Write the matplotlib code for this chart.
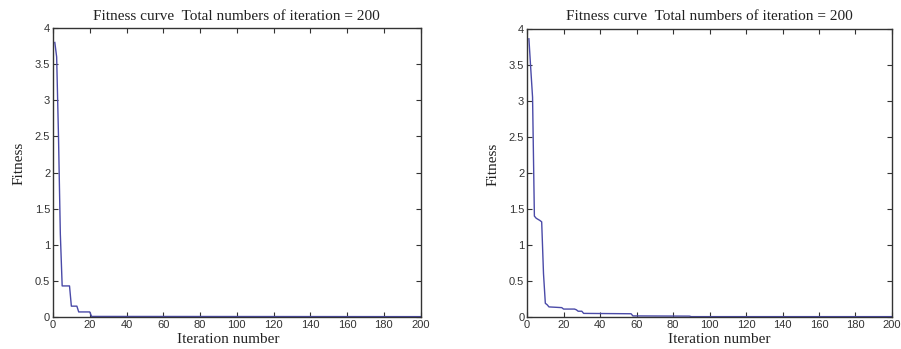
import matplotlib
matplotlib.use("Agg")
import matplotlib.pyplot as plt
import numpy as np

# Left chart data: iteration -> fitness (breakpoints; constant after)
left_iters = [1, 2, 3, 4, 5, 9, 10, 13, 14, 20, 21, 200]
left_fit = [3.8, 3.6, 2.5, 1.15, 0.43, 0.43, 0.15, 0.15, 0.07, 0.07, 0.008, 0.005]

# Right chart data
right_iters = [1, 2, 3, 4, 5, 7, 8, 9, 10, 11, 12, 19, 20, 26, 27, 28, 30, 31, 57, 58, 89, 90, 200]
right_fit = [3.86, 3.45, 3.05, 1.4, 1.37, 1.34, 1.32, 0.6, 0.19, 0.17, 0.14, 0.13, 0.11, 0.11,
             0.10, 0.08, 0.08, 0.05, 0.045, 0.015, 0.012, 0.005, 0.005]

title_text = "Fitness curve  Total numbers of iteration = 200"
xlabel_text = "Iteration number"
ylabel_text = "Fitness"
xticks = list(range(0, 201, 20))
yticks = [0, 0.5, 1, 1.5, 2, 2.5, 3, 3.5, 4]
ytick_labels = ["0", "0.5", "1", "1.5", "2", "2.5", "3", "3.5", "4"]

line_color = "#4a4aa8"
serif = ["Liberation Serif", "DejaVu Serif"]
sans = ["Liberation Sans", "DejaVu Sans"]

fig = plt.figure(figsize=(9.01, 3.49), dpi=100)
positions = [[0.0588, 0.0917, 0.408, 0.828], [0.585, 0.0917, 0.405, 0.826]]
xlabel_x = [0.478, 0.526]

for pos, xs, ys, lx in zip(positions, [left_iters, right_iters], [left_fit, right_fit], xlabel_x):
    ax = fig.add_axes(pos)
    ax.plot(xs, ys, color=line_color, linewidth=1.0)
    ax.set_xlim(0, 200)
    ax.set_ylim(0, 4)
    ax.set_xticks(xticks)
    ax.set_xticklabels([str(t) for t in xticks], fontfamily=sans, fontsize=8, color="#333333")
    ax.set_yticks(yticks)
    ax.set_yticklabels(ytick_labels, fontfamily=sans, fontsize=8, color="#333333")
    ax.tick_params(direction="in", top=True, right=True, length=3.5, width=0.8,
                   color="#333333", pad=2)
    for s in ax.spines.values():
        s.set_color("#333333")
        s.set_linewidth(1.0)
    ax.set_title(title_text, fontfamily=serif, fontsize=11, pad=6, color="#222222")
    ax.set_xlabel(xlabel_text, fontfamily=serif, fontsize=11, labelpad=0, color="#222222")
    ax.xaxis.set_label_coords(lx, -0.055)
    ax.set_ylabel(ylabel_text, fontfamily=serif, fontsize=11, color="#222222")
    ax.yaxis.set_label_coords(-0.075, 0.53)

fig.savefig("out.png", dpi=100)
